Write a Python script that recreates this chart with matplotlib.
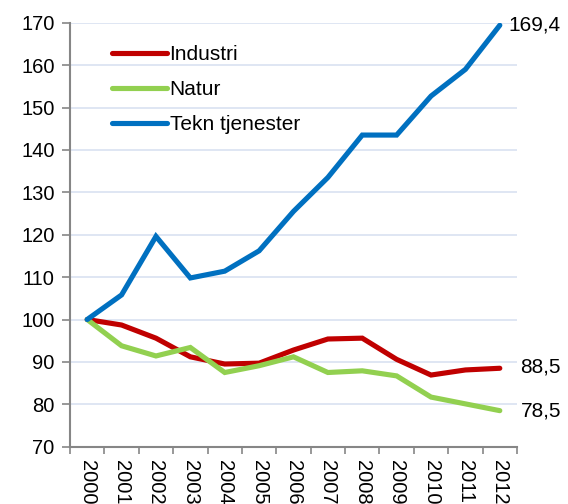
import matplotlib
matplotlib.use("Agg")
import matplotlib.pyplot as plt
import numpy as np

years = ["2000", "2001", "2002", "2003", "2004", "2005", "2006",
         "2007", "2008", "2009", "2010", "2011", "2012"]
industri = [100, 98.7, 95.6, 91.2, 89.5, 89.7, 92.8, 95.4, 95.6, 90.6, 86.9, 88.1, 88.5]
natur = [100, 93.8, 91.4, 93.4, 87.5, 89.1, 91.2, 87.5, 87.9, 86.7, 81.7, 80.1, 78.5]
tekn = [100, 105.8, 119.6, 109.8, 111.4, 116.2, 125.5, 133.5, 143.5, 143.5, 152.7, 159.0, 169.4]
series_names = ["Industri", "Natur", "Tekn tjenester"]
end_labels = ["88,5", "78,5", "169,4"]
yticks = [70, 80, 90, 100, 110, 120, 130, 140, 150, 160, 170]

plt.rcParams['font.family'] = ['Liberation Sans', 'DejaVu Sans']

fig = plt.figure(figsize=(5.68, 5.04), dpi=100)
ax = fig.add_axes([70/568, 1 - 446.7/504, 447/568, 424/504])

x = np.arange(len(years))
colors = ["#C00000", "#92D050", "#0070C0"]
for vals, name, c in zip([industri, natur, tekn], series_names, colors):
    ax.plot(x, vals, color=c, lw=3.7, label=name, solid_capstyle='round', solid_joinstyle='miter', zorder=3)

ax.set_xlim(-0.5, len(years) - 0.5)
ax.set_ylim(70, 170)
ax.set_yticks(yticks)
ax.set_yticklabels([str(v) for v in yticks], fontsize=14.5)
ax.yaxis.grid(True, color="#D9E2F1", lw=1.2, zorder=0)
ax.set_axisbelow(True)

ax.set_xticks(x)
ax.set_xticklabels(years, rotation=270, fontsize=14.5, va='top', ha='center')
ax.set_xticks(np.arange(-0.5, len(years)), minor=True)
ax.tick_params(axis='x', which='major', length=0, pad=9.5)
ax.tick_params(axis='x', which='minor', length=5, width=1.2, color="#868686")
ax.tick_params(axis='y', length=6, width=1.2, color="#868686", pad=5)

for s in ['top', 'right']:
    ax.spines[s].set_visible(False)
for s in ['left', 'bottom']:
    ax.spines[s].set_color("#868686")
    ax.spines[s].set_linewidth(1.5)

ax.text(len(years) - 1 + 0.26, tekn[-1], end_labels[2], fontsize=15, va='center', ha='left', clip_on=False)
ax.text(len(years) - 1 + 0.6, industri[-1] + 0.3, end_labels[0], fontsize=15, va='center', ha='left', clip_on=False)
ax.text(len(years) - 1 + 0.6, natur[-1], end_labels[1], fontsize=15, va='center', ha='left', clip_on=False)

leg = ax.legend(loc='upper left', bbox_to_anchor=(0.075, 0.966), frameon=False, fontsize=15,
                handlelength=2.65, handletextpad=0.12, labelspacing=0.76, borderaxespad=0)

fig.savefig("out.png", dpi=100)
